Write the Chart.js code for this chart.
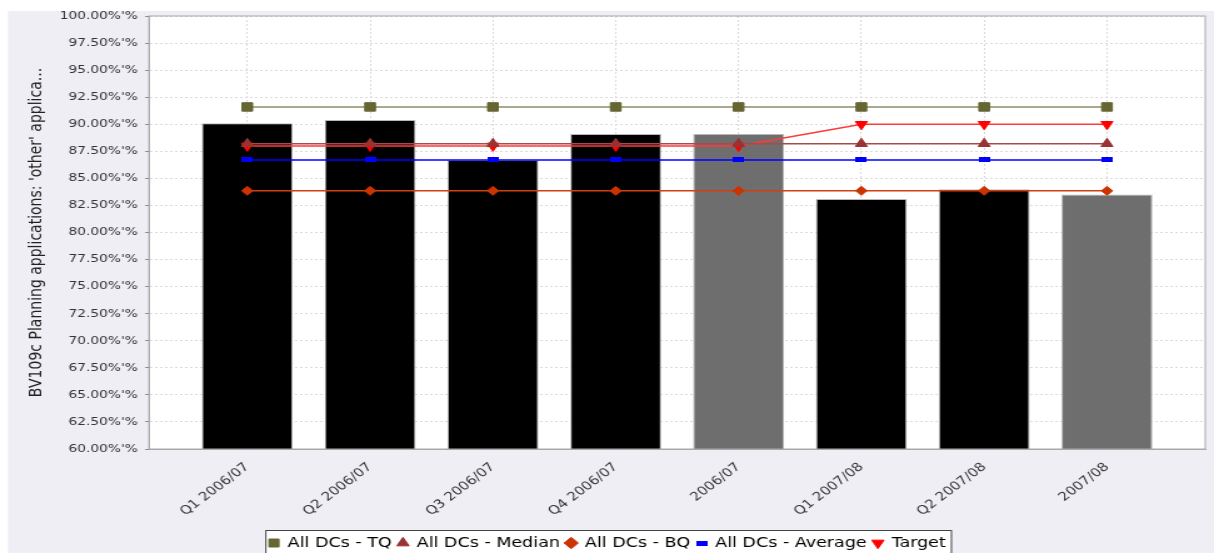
<!DOCTYPE html>
<html>
<head>
<meta charset="utf-8">
<script src="https://cdn.jsdelivr.net/npm/chart.js@4.4.0/dist/chart.umd.min.js"></script>
<style>
  body { margin: 0; background: #ffffff; }
</style>
</head>
<body>
<!-- drawn at 971 wide, shown 1214 wide: the original render is stretched sideways -->
<canvas id="chart" width="971" height="553" style="width:1214px;height:553px"></canvas>
<script>
const categories = ['Q1 2006/07', 'Q2 2006/07', 'Q3 2006/07', 'Q4 2006/07', '2006/07', 'Q1 2007/08', 'Q2 2007/08', '2007/08'];
const barValues = [90.1, 90.4, 86.7, 89.1, 89.1, 83.1, 84.0, 83.5];
const tqValues = [91.6, 91.6, 91.6, 91.6, 91.6, 91.6, 91.6, 91.6];
const medianValues = [88.2, 88.2, 88.2, 88.2, 88.2, 88.2, 88.2, 88.2];
const bqValues = [83.85, 83.85, 83.85, 83.85, 83.85, 83.85, 83.85, 83.85];
const averageValues = [86.7, 86.7, 86.7, 86.7, 86.7, 86.7, 86.7, 86.7];
const targetValues = [88.0, 88.0, 88.0, 88.0, 88.0, 90.0, 90.0, 90.0];
const seriesNames = ['All DCs - TQ', 'All DCs - Median', 'All DCs - BQ', 'All DCs - Average', 'Target'];
const yAxisTitle = "BV109c Planning applications: 'other' applica...";

const FONT = "'DejaVu Sans', sans-serif";
Chart.defaults.font.family = FONT;
Chart.defaults.color = '#333333';

function toPoints(values) {
  return values.map((v, i) => ({x: i, y: v}));
}

// blue dash marker used by the average series
const avgMarker = document.createElement('canvas');
avgMarker.width = 9;
avgMarker.height = 5;
let mctx = avgMarker.getContext('2d');
mctx.fillStyle = '#0000ff';
mctx.fillRect(0, 0, 9, 5);

function lineSet(label, values, lineColor, pointColor, style, radius, rotation) {
  return {
    type: 'line',
    label: label,
    data: toPoints(values),
    borderColor: lineColor,
    backgroundColor: pointColor,
    borderWidth: 1.5,
    pointStyle: style,
    pointRadius: radius,
    pointHoverRadius: radius,
    pointRotation: rotation || 0,
    pointBackgroundColor: pointColor,
    pointBorderColor: pointColor,
    pointBorderWidth: 1,
    order: 1
  };
}

const backgroundPlugin = {
  id: 'backgroundPlugin',
  beforeDraw(chart) {
    let ctx = chart.ctx;
    let area = chart.chartArea;
    ctx.save();
    ctx.fillStyle = '#ffffff';
    ctx.fillRect(0, 0, chart.width, chart.height);
    ctx.fillStyle = '#eeeef4';
    ctx.fillRect(6.4, 11, chart.width, chart.height);
    ctx.fillStyle = '#ffffff';
    ctx.fillRect(area.left, area.top, area.right - area.left, area.bottom - area.top);

    // white box behind the legend
    let legend = chart.legend;
    let opts = legend.options.labels;
    let size = opts.font.size;
    ctx.font = `${size}px ${FONT}`;
    let lineWidth = 0;
    let items = legend.legendItems || [];
    items.forEach(item => {
      lineWidth += opts.boxWidth + size / 2 + ctx.measureText(item.text).width + opts.padding;
    });
    let start = (legend.left + opts.padding + legend.right - lineWidth) / 2;
    let boxLeft = start - 3;
    let boxRight = start + lineWidth - opts.padding + 4;
    ctx.fillStyle = '#ffffff';
    ctx.fillRect(boxLeft, legend.top - 1, boxRight - boxLeft, 40);
    ctx.strokeStyle = '#444444';
    ctx.lineWidth = 1;
    ctx.strokeRect(boxLeft + 0.5, legend.top - 0.5, boxRight - boxLeft, 40);
    ctx.restore();
  },
  afterDraw(chart) {
    let ctx = chart.ctx;
    let area = chart.chartArea;
    ctx.save();
    ctx.strokeStyle = '#a8a8a8';
    ctx.lineWidth = 1;
    ctx.strokeRect(area.left, area.top, area.right - area.left, area.bottom - area.top);
    ctx.restore();
  }
};

let barChart = new Chart(document.getElementById('chart'), {
  type: 'bar',
  data: {
    datasets: [
      lineSet(seriesNames[0], tqValues, '#8c8c66', '#666633', 'rect', 6),
      lineSet(seriesNames[1], medianValues, '#a84a4a', '#993333', 'triangle', 5.5),
      lineSet(seriesNames[2], bqValues, '#d04010', '#cc3300', 'rectRot', 4.5),
      lineSet(seriesNames[3], averageValues, '#0000ff', '#0000ff', avgMarker, 4),
      lineSet(seriesNames[4], targetValues, '#ff3a3a', '#ff0000', 'triangle', 5.5, 180),
      {
        type: 'bar',
        label: '',
        data: toPoints(barValues),
        backgroundColor: categories.map(c => c.startsWith('Q') ? '#000000' : '#6e6e6e'),
        borderColor: '#b8b8b8',
        borderWidth: 1,
        barPercentage: 0.74,
        categoryPercentage: 1,
        order: 10
      }
    ]
  },
  options: {
    responsive: false,
    animation: false,
    devicePixelRatio: 1,
    events: [],
    layout: {
      padding: {left: 6, top: 16, right: 5.4, bottom: -7}
    },
    scales: {
      x: {
        type: 'linear',
        offset: false,
        min: -0.8,
        max: 7.8,
        afterBuildTicks: scale => {
          scale.ticks = categories.map((c, i) => ({value: i}));
        },
        afterFit: scale => {
          scale.height = 82;
        },
        ticks: {
          autoSkip: false,
          minRotation: 43,
          maxRotation: 43,
          padding: 11,
          color: '#333333',
          font: {size: 12},
          callback: value => categories[value] ?? ''
        },
        grid: {
          offset: false,
          color: '#dadada',
          drawTicks: false,
          tickLength: 0
        },
        border: {
          color: '#a8a8a8',
          dash: [2, 2]
        }
      },
      y: {
        min: 60,
        max: 100,
        afterFit: scale => {
          scale.width = 113.2;
        },
        ticks: {
          stepSize: 2.5,
          autoSkip: false,
          padding: 6,
          color: '#333333',
          font: {size: 11},
          callback: value => value.toFixed(2) + "%'%"
        },
        grid: {
          color: '#dadada',
          tickLength: 3,
          tickColor: '#888888',
          tickBorderDash: []
        },
        border: {
          color: '#a8a8a8',
          dash: [2, 2]
        },
        title: {
          display: true,
          text: yAxisTitle,
          color: '#222222',
          font: {size: 14},
          padding: {top: 15, bottom: 0}
        }
      }
    },
    plugins: {
      tooltip: {enabled: false},
      legend: {
        position: 'bottom',
        labels: {
          usePointStyle: true,
          boxWidth: 8,
          boxHeight: 8,
          padding: 5,
          color: '#000000',
          font: {size: 14},
          filter: item => item.text !== ''
        }
      }
    }
  },
  plugins: [backgroundPlugin]
});
</script>
</body>
</html>
